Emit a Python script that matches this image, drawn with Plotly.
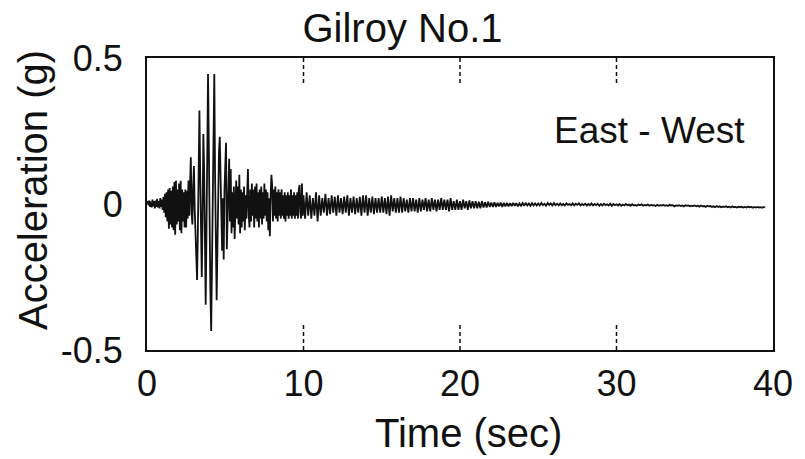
import numpy as np
import plotly.graph_objects as go

# ---------------- data ----------------
title_text = "Gilroy No.1"
component = "East - West"
x_label = "Time (sec)"
y_label = "Acceleration (g)"

x_ticks = [0, 10, 20, 30, 40]
y_ticks = [-0.5, 0, 0.5]
y_tick_text = ["-0.5", "0", "0.5"]
inner_ticks = [10, 20, 30]

# acceleration, 0 - 10 s, sampled every 0.05 s (one row per second)
dt_fast = 0.05
acc_0_10 = [
    0.0, 0.01, -0.005, 0.012, -0.01, 0.008, -0.012, 0.015, -0.008, 0.01, -0.015, 0.012, -0.01, 0.018, -0.012, 0.01, -0.015, 0.02, -0.01, 0.015,
    -0.02, 0.025, -0.03, 0.035, -0.045, 0.04, -0.06, 0.05, -0.085, 0.055, -0.07, 0.045, -0.08, 0.06, -0.09, 0.075, -0.105, 0.08, -0.07, 0.05,
    -0.06, 0.07, -0.09, 0.08, -0.10, 0.05, -0.06, 0.04, -0.08, 0.05, -0.08, 0.045, -0.05, 0.08, -0.04, 0.12, 0.16, -0.03, -0.07, 0.06,
    0.13, -0.02, -0.12, -0.2, -0.26, -0.1, 0.18, 0.32, 0.1, -0.15, -0.25, -0.05, 0.24, 0.12, -0.2, -0.345, -0.1, 0.25, 0.445, 0.2,
    -0.12, -0.3, -0.435, -0.2, 0.15, 0.38, 0.445, 0.1, -0.2, -0.33, -0.15, 0.05, 0.18, 0.23, 0.05, -0.1, -0.16, 0.02, -0.19, 0.05,
    0.15, 0.21, -0.155, -0.05, 0.08, 0.155, -0.06, 0.12, -0.1, 0.04, -0.08, 0.06, -0.12, 0.03, 0.08, -0.05, 0.06, -0.07, 0.1, -0.10,
    0.05, -0.08, 0.04, -0.06, 0.06, -0.09, 0.03, -0.05, 0.08, 0.12, -0.04, -0.08, 0.05, -0.06, 0.07, -0.04, 0.05, -0.08, 0.06, -0.05,
    0.07, -0.06, 0.04, -0.08, 0.05, -0.05, 0.06, -0.07, 0.04, -0.05, 0.07, -0.04, 0.05, -0.06, 0.04, -0.09, 0.02, -0.11, 0.03, 0.10,
    0.06, -0.06, 0.05, -0.04, 0.06, -0.05, 0.04, -0.06, 0.05, -0.04, 0.04, -0.05, 0.05, -0.04, 0.03, -0.05, 0.04, -0.06, 0.03, -0.04,
    0.04, -0.05, 0.03, -0.04, 0.05, -0.05, 0.03, -0.04, 0.04, -0.05, 0.03, -0.04, 0.04, -0.05, 0.05, 0.065, -0.03, -0.05, 0.07, -0.04,
]

# acceleration, 10 - 39.5 s, sampled every 0.1 s (one row per second)
dt_slow = 0.1
acc_10_40 = [
    0.03, -0.05, 0.04, -0.04, 0.03, -0.05, 0.02, -0.04, 0.04, -0.06,
    0.03, -0.04, 0.02, -0.03, 0.035, -0.04, 0.02, -0.035, 0.03, -0.03,
    0.025, -0.04, 0.03, -0.03, 0.02, -0.035, 0.025, -0.03, 0.03, -0.04,
    0.02, -0.03, 0.025, -0.035, 0.02, -0.03, 0.025, -0.04, 0.03, -0.03,
    0.03, -0.04, 0.02, -0.03, 0.025, -0.035, 0.02, -0.03, 0.02, -0.03,
    0.025, -0.03, 0.02, -0.035, 0.025, -0.04, 0.03, -0.025, 0.02, -0.03,
    0.02, -0.03, 0.025, -0.03, 0.02, -0.025, 0.015, -0.03, 0.02, -0.025,
    0.02, -0.025, 0.015, -0.03, 0.02, -0.025, 0.015, -0.02, 0.02, -0.025,
    0.015, -0.025, 0.02, -0.02, 0.015, -0.025, 0.015, -0.02, 0.02, -0.02,
    0.015, -0.02, 0.015, -0.025, 0.02, -0.02, 0.01, -0.02, 0.015, -0.02,
    0.01, -0.02, 0.015, -0.015, 0.01, -0.02, 0.012, -0.015, 0.01, -0.015,
    0.01, -0.015, 0.008, -0.015, 0.01, -0.012, 0.006, -0.012, 0.008, -0.01,
    0.005, -0.01, 0.006, -0.01, 0.004, -0.008, 0.005, -0.01, 0.004, -0.008,
    0.004, -0.008, 0.003, -0.007, 0.004, -0.006, 0.003, -0.008, 0.002, -0.006,
    0.003, -0.006, 0.004, -0.005, 0.002, -0.006, 0.003, -0.005, 0.002, -0.005,
    0.002, -0.005, 0.004, -0.004, 0.001, -0.006, 0.003, -0.003, 0.002, -0.005,
    0.003, -0.004, 0.001, -0.005, 0.002, -0.004, 0.0, -0.005, 0.002, -0.003,
    0.0, -0.004, 0.002, -0.005, 0.001, -0.003, 0.002, -0.005, 0.0, -0.004,
    0.001, -0.005, 0.0, -0.004, 0.002, -0.005, 0.0, -0.004, 0.001, -0.006,
    0.0, -0.005, 0.001, -0.004, -0.001, -0.005, 0.001, -0.006, 0.0, -0.004,
    -0.001, -0.005, 0.0, -0.006, -0.002, -0.005, 0.0, -0.004, -0.002, -0.006,
    -0.001, -0.005, -0.003, -0.006, -0.002, -0.004, -0.001, -0.006, -0.003, -0.005,
    -0.002, -0.006, -0.003, -0.005, -0.004, -0.007, -0.003, -0.006, -0.004, -0.005,
    -0.003, -0.006, -0.004, -0.007, -0.003, -0.005, -0.004, -0.008, -0.005, -0.006,
    -0.004, -0.007, -0.005, -0.008, -0.004, -0.006, -0.005, -0.008, -0.006, -0.007,
    -0.005, -0.008, -0.006, -0.009, -0.005, -0.008, -0.007, -0.01, -0.006, -0.008,
    -0.007, -0.01, -0.008, -0.011, -0.007, -0.01, -0.008, -0.011, -0.009, -0.01,
    -0.008, -0.011, -0.009, -0.012, -0.008, -0.011, -0.01, -0.012, -0.009, -0.011,
    -0.009, -0.012, -0.01, -0.012, -0.009, -0.011, -0.01, -0.013, -0.01, -0.012,
    -0.01, -0.012, -0.011, -0.013, -0.01, -0.012,
]

# sampling grid
t_fast = np.arange(len(acc_0_10)) * dt_fast
t_slow = 10 + np.arange(len(acc_10_40)) * dt_slow
time = np.concatenate([t_fast, t_slow])
acc = np.array(acc_0_10 + acc_10_40)

FONT = "Liberation Sans, Arial, Helvetica, sans-serif"
INK = "#111111"

fig = go.Figure()
fig.add_trace(go.Scatter(
    x=time, y=acc, mode="lines",
    line=dict(color=INK, width=1.8),
    showlegend=False, hoverinfo="skip",
))

# dotted inner ticks at top and bottom of the frame
for xv in inner_ticks:
    fig.add_shape(type="line", xref="x", yref="paper", x0=xv, x1=xv, y0=1.0, y1=0.905,
                  line=dict(color=INK, width=1.5, dash="4px,3px"))
    fig.add_shape(type="line", xref="x", yref="paper", x0=xv, x1=xv, y0=0.0, y1=0.095,
                  line=dict(color=INK, width=1.5, dash="4px,3px"))

axis_common = dict(
    showline=True, linecolor=INK, linewidth=2, mirror=True,
    showgrid=False, zeroline=False,
    ticks="outside", tickcolor="rgba(0,0,0,0)",
    tickfont=dict(family=FONT, size=36, color=INK),
)

fig.update_xaxes(range=[0, 40], tickvals=x_ticks, ticklen=1, **axis_common)
fig.update_yaxes(range=[-0.5, 0.5], tickvals=y_ticks, ticktext=y_tick_text, ticklen=15, **axis_common)

fig.update_layout(
    width=805, height=459,
    margin=dict(l=147, r=26, t=58, b=109),
    paper_bgcolor="white", plot_bgcolor="white",
    title=dict(text=title_text, x=0.5, xref="container", xanchor="center",
               y=1 - 28 / 459, yref="container", yanchor="middle",
               font=dict(family=FONT, size=40, color=INK)),
    annotations=[
        dict(text=component, xref="paper", yref="paper", x=0.803, y=0.753,
             xanchor="center", yanchor="middle", showarrow=False,
             font=dict(family=FONT, size=37, color=INK)),
        dict(text=x_label, xref="paper", yref="paper", x=0.514, y=-0.284,
             xanchor="center", yanchor="middle", showarrow=False,
             font=dict(family=FONT, size=40, color=INK)),
        dict(text=y_label, xref="paper", yref="paper", x=-0.182, y=0.548,
             xanchor="center", yanchor="middle", showarrow=False, textangle=-90,
             font=dict(family=FONT, size=40, color=INK)),
    ],
)

fig.write_html("out.html", config={"displayModeBar": False},
               post_script="document.body.style.margin='0';")
